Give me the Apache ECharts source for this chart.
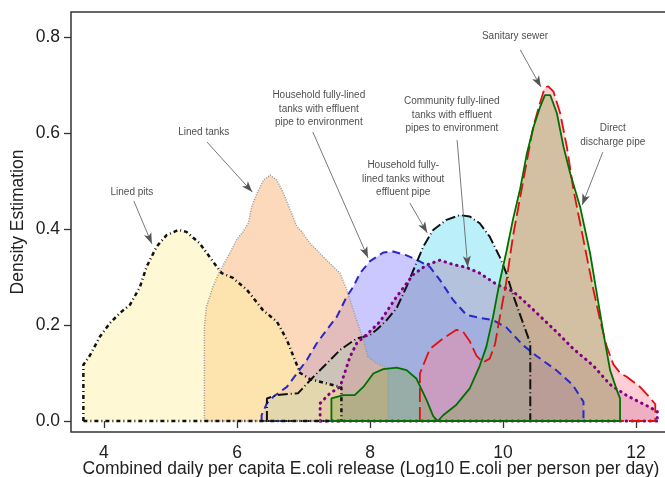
<!DOCTYPE html>
<html>
<head>
<meta charset="utf-8">
<script src="https://cdn.jsdelivr.net/npm/echarts@6.0.0/dist/echarts.min.js"></script>
<style>
  html, body { margin: 0; padding: 0; background: #fff; }
  #chart { width: 665px; height: 477px; }
</style>
</head>
<body>
<div id="chart"></div>
<script>
// density curves as [log10 E.coli, density]
const linedPits = [[3.69,0],[3.69,0.117],[3.79,0.137],[3.94,0.176],[4.09,0.204],[4.24,0.225],[4.39,0.242],[4.54,0.279],[4.64,0.321],[4.79,0.363],[4.94,0.387],[5.12,0.398],[5.24,0.394],[5.44,0.37],[5.64,0.332],[5.77,0.308],[5.94,0.298],[6.15,0.273],[6.39,0.231],[6.60,0.207],[6.75,0.169],[6.85,0.134],[6.95,0.10],[7.10,0.087],[7.30,0.08],[7.57,0.07],[7.57,0]];
const linedTanks = [[5.51,0],[5.51,0.197],[5.54,0.238],[5.64,0.28],[5.74,0.312],[5.89,0.349],[5.99,0.377],[6.09,0.394],[6.17,0.412],[6.22,0.446],[6.30,0.474],[6.40,0.502],[6.50,0.512],[6.60,0.502],[6.70,0.474],[6.80,0.44],[6.90,0.405],[6.97,0.395],[7.10,0.37],[7.25,0.349],[7.40,0.328],[7.55,0.308],[7.65,0.273],[7.80,0.21],[7.90,0.169],[7.97,0.134],[8.10,0.12],[8.27,0.11],[8.27,0]];
const hhWithPipe = [[6.37,0],[6.37,0.012],[6.45,0.037],[6.55,0.051],[6.75,0.071],[6.90,0.099],[7.05,0.127],[7.20,0.162],[7.35,0.19],[7.50,0.217],[7.65,0.259],[7.75,0.28],[7.85,0.308],[8.0,0.333],[8.20,0.351],[8.35,0.353],[8.55,0.345],[8.70,0.336],[8.90,0.321],[9.05,0.294],[9.25,0.252],[9.45,0.221],[9.65,0.215],[9.85,0.21],[10.05,0.195],[10.30,0.158],[10.50,0.136],[10.80,0.106],[11.05,0.075],[11.21,0.04],[11.21,0]];
const hhNoPipe = [[6.45,0],[6.45,0.047],[6.60,0.054],[6.92,0.058],[7.10,0.085],[7.35,0.12],[7.55,0.148],[7.80,0.172],[8.0,0.179],[8.10,0.19],[8.25,0.21],[8.40,0.235],[8.55,0.28],[8.70,0.33],[8.80,0.363],[8.95,0.398],[9.15,0.419],[9.35,0.429],[9.50,0.426],[9.65,0.412],[9.80,0.384],[9.95,0.342],[10.05,0.308],[10.15,0.263],[10.26,0.22],[10.41,0.162],[10.41,0]];
const community = [[7.25,0],[7.25,0.037],[7.40,0.058],[7.55,0.071],[7.60,0.092],[7.70,0.134],[7.80,0.162],[7.95,0.18],[8.15,0.207],[8.40,0.259],[8.65,0.305],[8.85,0.325],[9.05,0.335],[9.25,0.326],[9.45,0.32],[9.65,0.308],[9.90,0.285],[10.15,0.27],[10.30,0.252],[10.50,0.226],[10.81,0.185],[11.06,0.15],[11.36,0.115],[11.61,0.076],[11.86,0.053],[12.16,0.032],[12.32,0.02],[12.32,0]];
const sewer = [[8.75,0],[8.75,0.099],[8.90,0.15],[9.10,0.172],[9.30,0.19],[9.40,0.186],[9.50,0.166],[9.60,0.136],[9.70,0.122],[9.80,0.13],[9.88,0.16],[9.95,0.215],[10.05,0.29],[10.15,0.385],[10.25,0.46],[10.35,0.535],[10.45,0.61],[10.55,0.66],[10.63,0.695],[10.68,0.697],[10.76,0.686],[10.86,0.641],[10.96,0.571],[11.06,0.481],[11.16,0.412],[11.26,0.342],[11.36,0.273],[11.46,0.21],[11.56,0.155],[11.66,0.118],[11.76,0.1],[11.86,0.092],[12.06,0.071],[12.20,0.05],[12.29,0.035],[12.29,0]];
const directPipe = [[7.42,0],[7.42,0.047],[7.60,0.054],[7.77,0.054],[7.90,0.071],[8.05,0.099],[8.20,0.108],[8.40,0.111],[8.55,0.106],[8.70,0.088],[8.85,0.044],[8.95,0.01],[9.02,0],[9.10,0.012],[9.30,0.034],[9.50,0.068],[9.65,0.115],[9.75,0.155],[9.85,0.217],[9.95,0.29],[10.05,0.352],[10.15,0.42],[10.26,0.485],[10.36,0.558],[10.46,0.613],[10.56,0.655],[10.63,0.679],[10.71,0.679],[10.81,0.641],[10.91,0.571],[11.01,0.516],[11.16,0.446],[11.31,0.349],[11.41,0.266],[11.51,0.183],[11.61,0.106],[11.71,0.065],[11.76,0.047],[11.76,0]];

const xTicks = [4, 6, 8, 10, 12];
const yTicks = [0, 0.2, 0.4, 0.6, 0.8];

// callouts: label position and arrow, in data units
const notes = [
  { text: 'Lined pits', at: [4.42, 0.477], from: [4.45, 0.458], to: [4.72, 0.369] },
  { text: 'Lined tanks', at: [5.50, 0.602], from: [5.55, 0.581], to: [6.23, 0.477] },
  { text: 'Household fully-lined\ntanks with effluent\npipe to environment', at: [7.23, 0.65], from: [7.14, 0.602], to: [7.97, 0.34] },
  { text: 'Household fully-\nlined tanks without\neffluent pipe', at: [8.50, 0.504], from: [8.60, 0.454], to: [8.86, 0.392] },
  { text: 'Community fully-lined\ntanks with effluent\npipes to environment', at: [9.23, 0.6375], from: [9.31, 0.585], to: [9.47, 0.321] },
  { text: 'Sanitary sewer', at: [10.18, 0.802], from: [10.26, 0.773], to: [10.57, 0.696] },
  { text: 'Direct\ndischarge pipe', at: [11.65, 0.595], from: [11.50, 0.56], to: [11.19, 0.45] }
];

// drawing order follows the overlaps in the figure
const styles = [
  { data: hhWithPipe, line: '#2828c8', width: 2,   dash: [8, 5],       fill: 'rgba(140,130,255,0.45)' },
  { data: hhNoPipe,   line: '#111',    width: 2,   dash: [10, 3, 1, 3], fill: 'rgba(120,225,245,0.5)' },
  { data: community,  line: '#800080', width: 3,   dash: [0.5, 5.5],   fill: 'rgba(170,90,160,0.3)', cap: 'round' },
  { data: linedTanks, line: '#999',    width: 1.5, dash: [1, 1.5],     fill: 'rgba(250,180,120,0.5)' },
  { data: linedPits,  line: '#111',    width: 2.5, dash: [4, 3, 1, 3], fill: 'rgba(255,240,160,0.45)' },
  { data: sewer,      line: '#e01010', width: 1.8, dash: [14, 5],      fill: 'rgba(255,130,150,0.4)' },
  { data: directPipe, line: '#007000', width: 1.8, dash: 'solid',      fill: 'rgba(130,170,70,0.35)' }
];

const series = [];
styles.forEach(s => {
  const lineStyle = { color: s.line, width: s.width, type: s.dash, cap: s.cap || 'butt' };
  series.push({
    type: 'line', data: s.data, showSymbol: false, symbol: 'none',
    lineStyle, areaStyle: { color: s.fill, opacity: 1 }
  });
  // polygon base along zero
  series.push({
    type: 'line', data: [[s.data[0][0], 0], [s.data[s.data.length - 1][0], 0]],
    showSymbol: false, symbol: 'none', lineStyle
  });
});

series.push({
  type: 'scatter', symbolSize: 0, silent: true, z: 10,
  data: notes.map(n => ({ name: n.text, value: n.at })),
  label: {
    show: true, position: 'inside', formatter: p => p.name,
    fontFamily: 'Liberation Sans Narrow, Liberation Sans, Arial', fontSize: 10,
    lineHeight: 13.5, color: '#222', align: 'center'
  },
  markLine: {
    silent: true, symbol: ['none', 'arrow'], symbolSize: [6, 11],
    lineStyle: { color: '#555', width: 0.8, type: 'solid' },
    itemStyle: { color: '#111' },
    label: { show: false },
    data: notes.map(n => [{ coord: n.from }, { coord: n.to }])
  }
});

const axisFont = { fontFamily: 'Liberation Sans, Arial', fontSize: 17.5, color: '#222' };

const chart = echarts.init(document.getElementById('chart'), null, { renderer: 'canvas' });
chart.setOption({
  animation: false,
  backgroundColor: '#fff',
  grid: {
    left: 71, top: 12, right: -6, bottom: 45, outerBoundsMode: 'none',
    show: true, borderColor: '#333', borderWidth: 1.5
  },
  xAxis: {
    type: 'value', min: 3.504, max: 12.526,
    name: 'Combined daily per capita E.coli release (Log10 E.coli per person per day)',
    nameLocation: 'middle', nameGap: 28, nameMoveOverlap: false,
    nameTextStyle: axisFont,
    axisLine: { show: false },
    splitLine: { show: false },
    axisTick: { show: true, customValues: xTicks, length: 7, lineStyle: { color: '#333', width: 1.3 } },
    axisLabel: Object.assign({ customValues: xTicks, margin: 12 }, axisFont)
  },
  yAxis: {
    type: 'value', min: -0.0229, max: 0.852,
    name: 'Density Estimation',
    nameLocation: 'middle', nameGap: 44, nameRotate: 90, nameMoveOverlap: false,
    nameTextStyle: axisFont,
    axisLine: { show: false },
    splitLine: { show: false },
    axisTick: { show: true, customValues: yTicks, length: 7, lineStyle: { color: '#333', width: 1.3 } },
    axisLabel: Object.assign({ customValues: yTicks, margin: 11, formatter: v => v.toFixed(1) }, axisFont)
  },
  series
});
</script>
</body>
</html>
